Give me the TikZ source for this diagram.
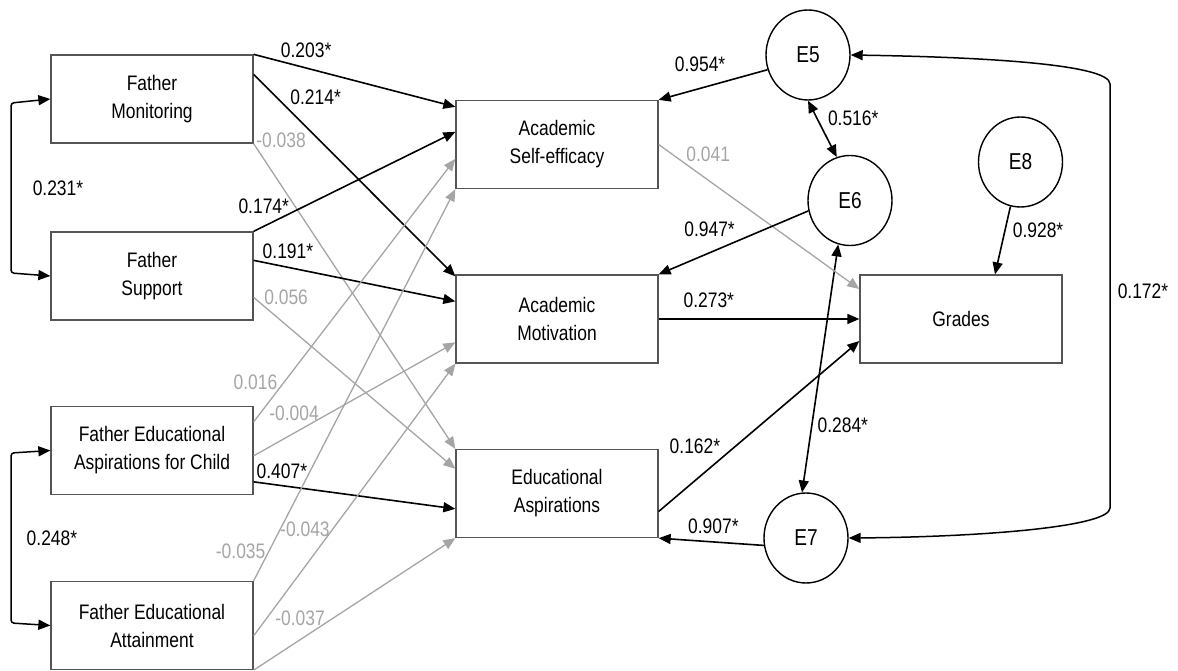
\documentclass[tikz,border=0pt]{standalone}
\usepackage{fontspec}
\setmainfont{Liberation Sans}[FakeStretch=0.83]
\usepackage{tikz}
\usetikzlibrary{positioning,arrows.meta,shapes.geometric}

\definecolor{lgray}{RGB}{165,165,165}
\definecolor{boxgray}{RGB}{85,85,85}

\newcommand{\boxfont}{\fontsize{21}{28}\selectfont}
\newcommand{\lblfont}{\fontsize{21}{24}\selectfont}
\newcommand{\errfont}{\fontsize{23}{26}\selectfont}

\begin{document}
\begin{tikzpicture}[x=1pt,y=-1pt,>={Triangle[length=12pt,width=10pt]},
	var/.style={rectangle,draw=boxgray,line width=1.3pt,minimum width=202pt,minimum height=88pt,inner sep=0pt,align=center,font=\boxfont},
	err/.style={ellipse,draw=black,line width=1.4pt,minimum width=84pt,minimum height=90pt,inner sep=0pt,font=\errfont},
	sig/.style={->,line width=1.6pt},
	nsig/.style={->,line width=1.3pt,draw=lgray},
	lbl/.style={inner sep=1pt,font=\lblfont},
	glbl/.style={lbl,text=lgray}]
			\useasboundingbox (0,0) rectangle (1178,671);

			\node[var] (fm) at (152,99) {Father\\Monitoring};
			\node[var] (fs) at (152,276) {Father\\Support};
			\node[var] (fea) at (152,450.5) {Father Educational\\Aspirations for Child};
			\node[var] (fatt) at (152,625.5) {Father Educational\\Attainment};
			\node[var] (ase) at (557,144.5) {Academic\\Self-efficacy};
			\node[var] (am) at (557,319) {Academic\\Motivation};
			\node[var] (ea) at (557,493.5) {Educational\\Aspirations};
			\node[var] (gr) at (961,319) {Grades};
			\node[err] (e5) at (808,55) {E5};
			\node[err] (e6) at (850,200.5) {E6};
			\node[err] (e7) at (806,538) {E7};
			\node[err] (e8) at (1020.5,162) {E8};

			\coordinate (c1) at (11,103);
			\coordinate (c2) at (11,273);
			\coordinate (c3) at (11,453);
			\coordinate (c4) at (11,623);
			\coordinate (c5) at (1110,84);
			\coordinate (c6) at (1110,508);

			% correlations
			\draw[<->,line width=1.5pt,rounded corners=3pt] (fm.west) -- (c1) -- node[lbl,pos=.5,right=20pt] {0.231*} (c2) -- (fs.west);
			\draw[<->,line width=1.5pt,rounded corners=3pt] (fea.west) -- (c3) -- node[lbl,pos=.5,right=14pt] {0.248*} (c4) -- (fatt.west);
			\draw[<->,line width=1.5pt] (e5.east) .. controls (980,57) and (1110,64) .. (c5) -- node[lbl,pos=.49,right=6pt] {0.172*} (c6) .. controls (1110,527) and (980,537) .. (e7.east);
			\draw[<->,line width=1.6pt] (e5.south) -- node[lbl,pos=.32,right=9pt] {0.516*} (e6.107);
			\draw[<->,line width=1.6pt] (e6.-105) -- node[lbl,pos=.73,right=4pt] {0.284*} (e7.95);

			% father variables
			\draw[sig] (fm.north east) -- node[lbl,pos=.26,above=8pt] {0.203*} ([yshift=-7pt]ase.north west);
			\draw[sig] ([yshift=-20pt]fm.north east) -- node[lbl,pos=.114,right=12pt] {0.214*} ([yshift=-2pt]am.north west);
			\draw[nsig] (fm.south east) -- node[glbl,pos=0,right=1pt,yshift=3pt] {-0.038} (ea.north west);
			\draw[sig] (fs.north east) -- node[lbl,pos=.05,above=11pt] {0.174*} ([yshift=-32pt]ase.north west);
			\draw[sig] ([yshift=-29pt]fs.north east) -- node[lbl,pos=.17,above=7pt] {0.191*} ([yshift=-27pt]am.north west);
			\draw[nsig] ([yshift=-66pt]fs.north east) -- node[glbl,pos=0,right=9pt] {0.056} ([yshift=-20pt]ea.north west);
			\draw[nsig] ([yshift=-16pt]fea.north east) -- node[glbl,pos=.15,left=5pt] {0.016} ([yshift=-59pt]ase.north west);
			\draw[nsig] ([yshift=-50pt]fea.north east) -- node[glbl,pos=.2,above=11pt] {-0.004} ([yshift=-68pt]am.north west);
			\draw[sig] ([yshift=-76pt]fea.north east) -- node[lbl,pos=.14,above=5pt] {0.407*} ([yshift=-60pt]ea.north west);
			\draw[nsig] (fatt.north east) -- node[glbl,pos=.076,left=2pt] {-0.035} (ase.south west);
			\draw[nsig] ([yshift=-55pt]fatt.north east) -- node[glbl,pos=.39,left=1pt] {-0.043} (am.south west);
			\draw[nsig] (fatt.south east) -- node[glbl,pos=.23,above=12pt] {-0.037} (ea.south west);

			% mediators and errors
			\draw[nsig] (ase.east) -- node[glbl,pos=.13,above right=0pt] {0.041} ([yshift=30pt]gr.west);
			\draw[sig] (am.east) -- node[lbl,pos=.25,above=9pt] {0.273*} (gr.west);
			\draw[sig] ([yshift=-18pt]ea.east) -- node[lbl,pos=.38,left=13pt] {0.162*} ([yshift=-22pt]gr.west);
			\draw[sig] (e5.200) -- node[lbl,pos=.62,above=15pt] {0.954*} (ase.north east);
			\draw[sig] (e6.194) -- node[lbl,pos=.66,above=14pt] {0.947*} (am.north east);
			\draw[sig] (e7.190) -- node[lbl,pos=.48,above=6pt] {0.907*} (ea.south east);
			\draw[sig] (e8) -- node[lbl,pos=.35,right=6pt] {0.928*} ([xshift=34pt]gr.north);
		\end{tikzpicture}
\end{document}
